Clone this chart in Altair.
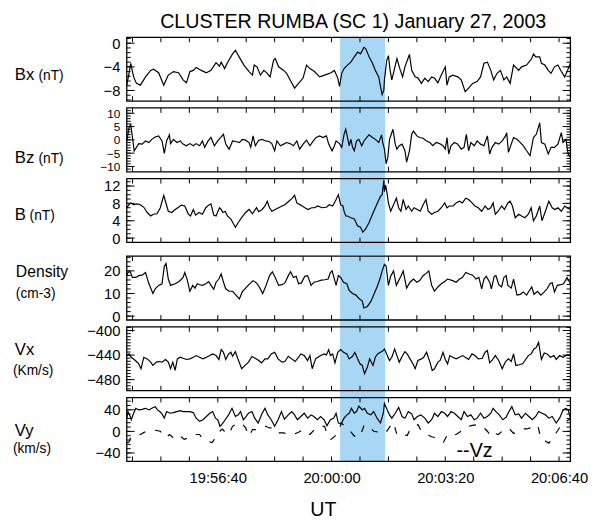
import altair as alt
import numpy as np
import pandas as pd

# ---------------- data (time = seconds after 19:54:00 UT) ----------------
bx_t = [0,4,7,12,17,24,33,42,47,56,65,73,82,91,99,105,111,117,122,131,140,148,157,163,166,172,177,186,191,198,206,215,221,224,229,235,241,247,252,258,261,267,276,281,287,295,302,310,316,322,330,339,348,359,365,371,374,378,382,388,394,400,406,411,417,420,426,432,437,443,446,449,452,453,457,460,463,466,470,475,481,485,489,497,501,507,512,518,524,530,536,541,547,553,560,563,567,573,582,588,595,601,608,616,622,628,634,640,645,651,657,663,668,674,680,689,694,703,712,715,719,726,729,735,741,746,752,758,764,770,775,780]
bx_v = [-7.1,-5.1,-3.4,-5.7,-6.8,-7.1,-5.7,-4.6,-4.4,-5.0,-7.1,-5.4,-4.8,-5.0,-6.2,-6.7,-4.8,-4.6,-4.1,-4.6,-5.0,-4.6,-3.3,-3.9,-3.2,-4.3,-3.3,-1.8,-1.2,-2.4,-3.7,-4.8,-5.4,-3.7,-4.0,-5.4,-4.6,-5.1,-5.7,-2.9,-2.6,-4.0,-4.6,-5.1,-6.2,-7.6,-6.8,-5.9,-3.7,-4.3,-4.8,-5.7,-5.4,-5.0,-4.6,-5.9,-7.3,-5.1,-4.3,-3.7,-3.2,-2.3,-1.5,-1.8,-0.7,-0.9,-2.3,-3.4,-4.6,-5.7,-7.3,-8.7,-7.9,-6.2,-2.9,-2.1,-4.6,-6.2,-4.6,-2.6,-4.6,-5.7,-4.0,-1.9,-4.6,-5.7,-5.9,-6.8,-5.9,-6.5,-5.7,-5.9,-6.7,-5.4,-4.0,-7.1,-5.7,-5.4,-5.7,-6.2,-8.2,-7.6,-6.8,-6.5,-5.7,-3.4,-3.2,-4.6,-6.2,-5.1,-4.6,-6.2,-5.7,-6.8,-3.7,-4.6,-4.0,-3.7,-2.6,-1.8,-2.3,-2.3,-3.4,-3.7,-4.6,-5.1,-4.0,-3.7,-4.8,-5.7,-4.6,-3.4]

bz_t = [0,4,7,10,13,17,21,27,33,39,44,50,56,62,66,70,75,77,82,88,94,99,105,111,117,122,128,133,137,143,148,154,160,166,170,174,180,186,192,198,203,209,215,218,222,226,232,238,244,250,255,260,264,270,276,281,287,293,299,304,310,316,322,328,333,339,345,351,355,361,365,368,374,378,382,385,388,391,394,397,400,404,408,413,417,422,426,432,437,443,448,450,453,456,459,462,465,468,472,475,479,484,489,492,497,501,504,510,515,521,527,533,538,544,550,556,560,563,566,570,576,582,588,593,597,601,605,611,616,622,628,634,638,642,648,654,660,666,668,671,674,680,686,692,697,703,709,715,720,726,729,735,741,746,752,758,764,767,772,776,780]
bz_v = [-0.4,4.6,5.8,0.9,-4.1,-2.8,-1.4,-1.6,-0.4,-1.0,0.2,1.1,1.5,-0.4,-5.1,-0.4,1.9,-1.4,0.2,-1.0,-0.4,-1.6,-2.2,-1.4,-2.2,-1.4,-2.2,-0.4,-2.8,-0.4,0.9,-2.2,-0.4,1.1,2.1,-1.6,-3.5,-0.4,-0.6,-1.0,0.2,-0.1,-1.0,-2.8,1.5,-2.2,-0.1,0.2,-0.4,-0.6,-1.4,-4.1,-0.4,-2.2,-1.6,-1.0,-1.4,-2.2,-0.4,-3.5,-1.6,-0.1,-2.2,-0.4,0.9,1.5,0.9,1.5,-1.6,-4.1,-2.2,-0.4,-1.4,-2.8,2.1,4.0,0.9,-2.2,0.2,-2.8,-4.1,-0.4,0.2,-2.2,-0.4,0.9,1.9,0.9,0.2,-1.0,1.9,-1.0,-3.5,-9.0,-6.5,0.2,2.1,4.0,-1.6,-3.5,-2.2,-1.6,-4.1,-8.4,-4.1,2.1,3.3,1.5,0.9,0.6,-0.4,-1.0,-2.2,-1.0,-1.4,-2.2,-3.5,0.9,-5.3,-2.2,-1.0,-1.6,-3.5,-2.8,2.1,-4.1,-1.0,-2.2,-0.4,-1.6,-2.2,1.5,-5.3,-2.8,-1.0,-1.6,-0.4,1.5,2.7,-4.7,-2.8,0.9,0.2,-1.0,-2.2,-4.1,-5.9,0.9,2.1,6.4,-1.0,-1.6,-5.3,-2.8,-2.8,-1.6,2.7,-1.0,0.2,-5.3,-6.5]

b_t = [0,4,7,12,18,24,30,36,42,47,53,59,65,68,73,79,85,91,96,102,108,112,117,121,127,133,139,144,148,153,157,163,166,169,173,177,183,191,196,202,209,215,221,228,232,238,243,247,251,255,261,267,273,278,285,291,295,299,306,313,319,325,330,336,343,351,356,362,368,372,376,380,382,385,388,394,400,406,411,415,420,426,432,437,442,446,449,452,453,455,458,460,464,469,474,478,482,486,491,495,501,505,511,516,521,526,530,536,541,547,553,559,563,567,574,579,585,590,596,601,607,612,618,624,630,635,640,644,648,653,659,664,670,674,678,683,689,694,700,706,711,715,720,726,730,736,742,748,753,758,764,770,774,780]
b_v = [7.0,7.7,8.1,7.7,7.9,7.7,7.1,5.9,5.1,5.5,5.6,7.0,9.85,8.5,6.2,5.9,6.6,7.1,7.6,7.4,5.6,5.1,6.6,5.3,5.9,5.5,7.0,7.6,7.9,5.3,5.1,7.0,6.6,5.9,6.2,5.1,4.4,2.5,3.6,4.7,5.9,6.6,5.6,7.0,6.1,6.6,7.4,8.5,7.0,6.2,6.6,7.0,7.4,7.7,8.5,9.2,9.85,8.1,7.6,7.0,6.6,7.0,7.0,7.4,7.0,7.1,7.7,7.4,8.9,10.0,7.7,7.4,6.2,5.1,5.1,4.7,4.4,2.8,2.5,1.35,2.1,3.6,5.5,7.0,8.5,9.6,10.0,13.4,10.7,12.2,10.0,8.1,6.2,7.7,9.2,7.0,6.2,8.9,6.6,7.4,6.2,7.0,6.6,6.2,7.7,8.9,6.2,5.5,5.9,6.2,7.0,8.1,7.0,7.4,7.4,8.1,8.5,8.1,9.2,8.9,8.1,7.4,7.0,6.2,7.4,6.6,7.0,8.1,5.5,6.2,7.4,6.6,8.1,8.5,7.4,4.7,5.5,5.1,4.7,5.5,7.0,4.0,5.1,7.4,4.0,6.2,8.5,7.0,6.6,7.0,6.2,7.4,7.0,6.6]

n_t = [0,2,6,10,16,21,27,33,39,46,50,56,62,66,69,73,77,85,92,99,102,106,111,116,120,124,128,133,139,144,148,153,157,162,166,170,174,180,186,192,198,203,209,216,222,228,233,239,245,251,256,261,267,273,278,284,288,293,298,302,307,313,318,324,329,335,342,348,354,358,361,365,368,372,376,381,387,391,397,403,408,414,417,423,429,434,440,445,449,453,456,460,464,469,474,478,482,486,492,498,504,510,515,521,527,531,536,541,547,553,559,564,573,579,585,590,596,602,608,614,619,624,628,632,638,641,646,649,654,659,663,667,670,676,680,686,692,697,703,707,712,716,722,728,734,739,744,748,752,757,763,768,774,780]
n_v = [17.9,19.3,19.6,17.1,17.1,17.9,18.1,19.3,14.3,10.0,12.1,13.6,14.3,22.1,23.3,16.4,13.6,14.3,15.3,17.1,19.3,16.4,11.0,13.6,12.4,14.3,13.9,13.6,14.3,15.3,13.6,11.9,15.0,16.4,18.6,15.0,12.1,11.0,11.0,9.3,7.6,10.7,12.4,14.3,15.7,14.7,12.9,10.0,13.6,17.9,19.6,17.1,13.6,13.9,14.7,17.9,19.6,17.1,17.6,14.3,14.7,17.6,17.9,13.6,15.0,15.3,15.9,16.1,16.4,19.3,20.0,16.4,13.6,17.9,17.1,15.0,14.3,11.4,10.0,9.3,7.9,6.7,3.6,4.3,6.4,9.3,12.9,16.4,20.0,22.9,22.1,13.6,17.6,20.0,13.6,15.7,17.6,20.0,12.4,15.0,16.4,15.0,15.7,17.9,19.0,20.0,13.6,11.0,12.9,14.3,15.3,16.4,15.7,15.0,16.4,17.1,19.3,18.6,18.1,16.4,17.1,12.1,16.4,17.6,15.0,12.1,17.6,17.9,13.9,12.9,17.1,17.9,13.6,12.4,16.4,9.3,9.6,10.7,9.3,11.0,12.9,9.6,11.0,9.3,10.7,12.1,14.3,14.7,10.7,13.6,13.9,14.3,17.1,14.3]

vx_t = [0,4,8,13,17,21,25,30,36,42,46,52,58,62,68,73,77,81,85,89,94,99,105,111,117,122,128,134,140,146,151,157,162,166,170,174,179,183,186,191,195,202,208,214,220,226,232,237,243,248,254,260,266,273,278,284,290,296,302,306,312,318,322,326,332,336,341,347,351,355,358,362,366,371,376,381,387,391,397,401,406,410,414,418,423,427,433,437,441,446,451,453,458,462,466,471,475,479,485,489,493,498,503,507,512,518,522,527,533,537,541,547,551,556,560,564,568,573,579,585,590,595,601,607,612,618,625,630,634,638,642,648,654,660,666,671,676,680,684,690,696,700,706,711,716,720,724,729,734,739,745,751,755,761,767,772,776,780]
vx_v = [-440.8,-438.1,-443.5,-447.2,-450.5,-454.2,-462.3,-443.5,-446.2,-451.5,-456.9,-451.5,-450.5,-451.5,-447.2,-451.5,-462.3,-451.5,-465.0,-446.2,-443.5,-445.1,-447.2,-446.2,-443.5,-440.8,-443.5,-446.2,-443.5,-440.8,-438.1,-440.8,-447.2,-431.1,-435.4,-447.2,-438.1,-435.4,-441.9,-434.4,-445.1,-462.3,-456.9,-451.5,-442.4,-445.1,-448.8,-452.6,-446.2,-446.2,-438.1,-435.4,-446.2,-451.5,-450.5,-441.9,-446.2,-450.5,-443.5,-438.1,-440.8,-448.8,-440.8,-462.3,-446.2,-443.5,-440.8,-438.1,-439.7,-431.1,-440.8,-438.1,-452.6,-435.4,-431.1,-435.4,-438.1,-446.2,-441.9,-435.4,-446.2,-454.2,-456.9,-470.3,-459.6,-446.2,-456.9,-443.5,-438.1,-435.4,-432.7,-430.1,-440.8,-448.8,-443.5,-430.1,-440.8,-451.5,-440.8,-434.4,-438.1,-446.2,-454.2,-462.3,-448.8,-446.2,-443.5,-435.4,-451.5,-465.0,-462.3,-451.5,-448.8,-435.4,-447.2,-454.2,-440.8,-443.5,-446.2,-443.5,-440.8,-443.5,-447.2,-438.1,-440.8,-446.2,-445.1,-435.4,-432.7,-452.6,-448.8,-440.8,-448.8,-462.3,-450.5,-446.2,-450.5,-438.1,-456.9,-455.8,-454.2,-448.8,-440.8,-438.1,-430.1,-427.4,-419.3,-447.2,-436.5,-438.1,-443.5,-440.8,-447.2,-440.8,-443.5,-440.8,-439.7,-440.8]

vy_t = [0,2,6,8,12,16,21,27,33,39,44,50,54,58,62,66,70,76,82,88,94,99,105,111,117,122,128,134,140,146,151,156,160,164,169,173,179,185,191,196,200,205,209,214,220,225,231,238,243,248,254,260,266,272,277,284,290,295,300,306,312,318,324,329,335,341,347,352,358,364,368,372,377,382,387,391,395,400,404,408,414,418,423,429,434,440,446,451,453,458,462,466,472,478,484,489,495,501,505,511,517,524,530,536,541,547,553,559,564,570,576,582,588,593,599,605,611,616,622,628,634,640,644,649,655,661,667,672,677,683,689,694,701,707,713,719,724,730,736,742,748,755,761,767,772,776,780]
vy_v = [24.5,36.7,27.6,21.5,33.6,42.7,39.7,40.9,42.7,39.7,42.7,45.8,39.7,36.7,32.4,24.5,36.7,33.6,34.8,36.7,38.5,36.7,36.7,36.7,34.8,24.5,18.5,21.5,27.6,33.6,36.7,24.5,21.5,9.4,15.5,21.5,30.6,42.7,27.6,30.6,36.7,21.5,26.4,33.6,36.7,24.5,15.5,33.6,42.7,30.6,21.5,9.4,21.5,36.7,22.7,30.6,36.7,30.6,21.5,27.6,33.6,24.5,30.6,27.6,21.5,27.6,21.5,10.6,21.5,24.5,33.6,15.5,14.2,24.5,30.6,33.6,42.7,33.6,36.7,47.0,39.7,42.7,33.6,30.6,36.7,24.5,15.5,33.6,51.8,39.7,30.6,24.5,33.6,44.5,27.6,24.5,36.7,32.4,21.5,27.6,30.6,24.5,15.5,21.5,33.6,27.6,36.7,33.6,27.6,36.7,33.6,27.6,21.5,36.7,27.6,30.6,21.5,24.5,33.6,24.5,27.6,33.6,42.7,36.7,30.6,21.5,26.4,36.7,45.8,30.6,32.4,24.5,33.6,27.6,21.5,27.6,36.7,33.6,30.6,24.5,27.6,15.5,24.5,39.7,42.7,39.7,24.5]

vz_t = [0,4,8,16,24,31,42,50,59,65,69,75,82,87,94,101,108,113,120,128,134,141,150,154,160,168,173,179,186,193,202,209,215,221,228,235,244,251,258,264,270,276,284,293,302,310,316,322,330,339,348,354,359,366,372,377,384,391,400,406,411,417,422,426,434,443,449,455,463,469,474,478,485,493,498,507,512,518,527,536,544,553,557,564,570,579,588,596,605,616,625,634,640,645,653,660,666,674,680,689,696,703,709,715,723,727,732,736,742,749,758,764,770,775,780]
vz_v = [-20.9,-19.7,-8.8,-7.6,-5.8,-1.5,0.3,2.1,0.3,-8.8,-11.8,-5.8,-11.8,-14.8,-8.8,-14.8,-11.8,-10.0,-5.8,-5.8,-14.8,-17.9,-20.9,-14.8,-2.7,4.5,-1.5,-5.8,9.4,14.2,15.5,6.4,-8.8,3.3,3.3,7.6,9.4,6.4,6.4,-2.7,-2.7,-2.7,-5.8,-5.8,-1.5,3.3,-2.7,-5.8,3.3,9.4,9.4,-11.8,-14.8,-8.8,0.3,15.5,9.4,3.3,-8.8,-3.9,-7.0,10.6,12.4,9.4,0.3,-1.5,0.3,-2.7,9.4,16.7,-2.7,-8.8,-5.8,-7.6,3.3,9.4,12.4,0.3,-5.8,-10.0,-11.8,-14.8,-19.7,-5.8,-7.6,-5.8,0.3,7.6,10.6,12.4,9.4,0.3,-8.8,-2.7,-5.8,0.3,-2.7,3.3,-3.9,0.3,4.5,4.5,6.4,3.3,9.4,-8.8,-10.0,-17.9,-22.1,-11.8,2.1,12.4,14.2,20.3,22.7]

band_start = [375]
band_end = [454]
time_label_values = [160, 360, 560, 760]
title_text = "CLUSTER RUMBA (SC 1) January 27, 2003"

# ---------------- styling ----------------
W, H = 452, 65
BAND = "#a8d7f5"
FONT = "Liberation Sans"
XSCALE = alt.Scale(domain=[0, 780], nice=False, zero=False)


def dummy():
    return alt.Data(values=[{"k": 1}])


def series_df(t, v):
    n = min(len(t), len(v))
    return pd.DataFrame({"t": t[:n], "v": v[:n]})


def panel(lines, ydom, yvals, minor_step, gap, texts, last=False, label_size=15):
    ys = alt.Scale(domain=ydom, nice=False, zero=False)
    yax = alt.Axis(values=yvals, ticks=False, tickSize=0, domain=False, grid=False,
                   labelFont=FONT, labelFontSize=label_size, labelColor="black",
                   labelPadding=7, labelOverlap=False, labelFlush=False,
                   labelBound=False, title=None)
    if last:
        xax = alt.Axis(values=time_label_values,
                       labelExpr="utcFormat(utc(2003, 0, 27, 19, 54, datum.value), '%H:%M:%S')",
                       ticks=False, tickSize=0, domain=False, grid=False,
                       labelFont=FONT, labelFontSize=15, labelColor="black",
                       labelPadding=10, labelFlush=False, labelOverlap=False, title=None)
    else:
        xax = None

    def X(f):
        return alt.X(f, scale=XSCALE, axis=xax)

    def Y(f):
        return alt.Y(f, scale=ys, axis=yax)

    layers = []
    layers.append(
        alt.Chart(pd.DataFrame({"s": band_start, "e": band_end}))
        .mark_rect(color=BAND)
        .encode(x=X("s:Q"), x2="e:Q", y=alt.value(0), y2=alt.value(H + gap))
    )
    for t, v, dash in lines:
        kw = {"strokeDash": dash} if dash else {}
        layers.append(
            alt.Chart(series_df(t, v))
            .mark_line(color="black", strokeWidth=1.2, **kw)
            .encode(x=X("t:Q"), y=Y("v:Q"))
        )
    lo, hi = ydom
    k = np.floor((yvals[0] - lo) / minor_step)
    start = yvals[0] - k * minor_step
    minor = [round(float(x), 4) for x in np.arange(start, hi, minor_step) if lo < x < hi]
    for vals, L in [(minor, 4), (yvals, 8)]:
        df = pd.DataFrame({"v": vals})
        layers.append(alt.Chart(df).mark_rule(color="black", strokeWidth=1)
                      .encode(y=Y("v:Q"), x=alt.value(0), x2=alt.value(L)))
        layers.append(alt.Chart(df).mark_rule(color="black", strokeWidth=1)
                      .encode(y=Y("v:Q"), x=alt.value(W - L), x2=alt.value(W)))
    xt = pd.DataFrame({"t": list(range(10, 780, 50))})
    layers.append(alt.Chart(xt).mark_rule(color="black", strokeWidth=1)
                  .encode(x=X("t:Q"), y=alt.value(0), y2=alt.value(5)))
    layers.append(alt.Chart(xt).mark_rule(color="black", strokeWidth=1)
                  .encode(x=X("t:Q"), y=alt.value(H - 5), y2=alt.value(H)))
    layers.append(
        alt.Chart(dummy()).mark_rect(fill="white", fillOpacity=0, stroke="black", strokeWidth=1.3)
        .encode(x=alt.value(0), x2=alt.value(W), y=alt.value(0), y2=alt.value(H))
    )
    for txt, x, y, fs in texts:
        layers.append(
            alt.Chart(dummy()).mark_text(text=txt, align="left", baseline="alphabetic",
                                         font=FONT, fontSize=fs, color="black")
            .encode(x=alt.value(x), y=alt.value(y))
        )
    return alt.layer(*layers).properties(width=W, height=H)


p1 = panel([(bx_t, bx_v, None)], [-9.8, 1.0], [-8, -4, 0], 0.8, 7,
           [("Bx", -114, 43, 17), ("(nT)", -90, 43, 14), (title_text, 34, -9, 20)])
p2 = panel([(bz_t, bz_v, None)], [-12, 12], [-10, -5, 0, 5, 10], 1, 7,
           [("Bz", -114, 56, 17), ("(nT)", -90, 56, 14)], label_size=12)
p3 = panel([(b_t, b_v, None)], [-1, 13.7], [0, 4, 8, 12], 1, 13,
           [("B", -114, 42, 17), ("(nT)", -99, 42, 14), (" ", -116, 20, 14)])
p4 = panel([(n_t, n_v, None)], [-1.7, 26.5], [0, 10, 20], 2, 7,
           [("Density", -113, 21, 16), ("(cm-3)", -113, 43, 14)])
p5 = panel([(vx_t, vx_v, None)], [-498, -394], [-480, -440, -400], 5, 7,
           [("Vx", -114, 29, 17), ("(Km/s)", -116, 49, 14)])
p6 = panel([(vy_t, vy_v, None), (vz_t, vz_v, [7, 10])], [-55.5, 62.7], [-40, 0, 40], 8, 0,
           [("Vy", -114, 39, 17), ("(km/s)", -116, 57, 14), ("--Vz", 336, 61, 20),
            ("UT", 187, 121, 20)], last=True)

upper = alt.vconcat(p1, p2, p3, spacing=7, bounds="flush")
lower = alt.vconcat(p4, p5, p6, spacing=7, bounds="flush")

chart = (
    alt.vconcat(upper, lower, spacing=0)
    .properties(padding={"left": 5, "top": 0, "right": 5, "bottom": 0}, background="white")
    .configure_view(strokeWidth=0)
)

chart.save("out.html", embed_options={"renderer": "svg", "actions": False})
